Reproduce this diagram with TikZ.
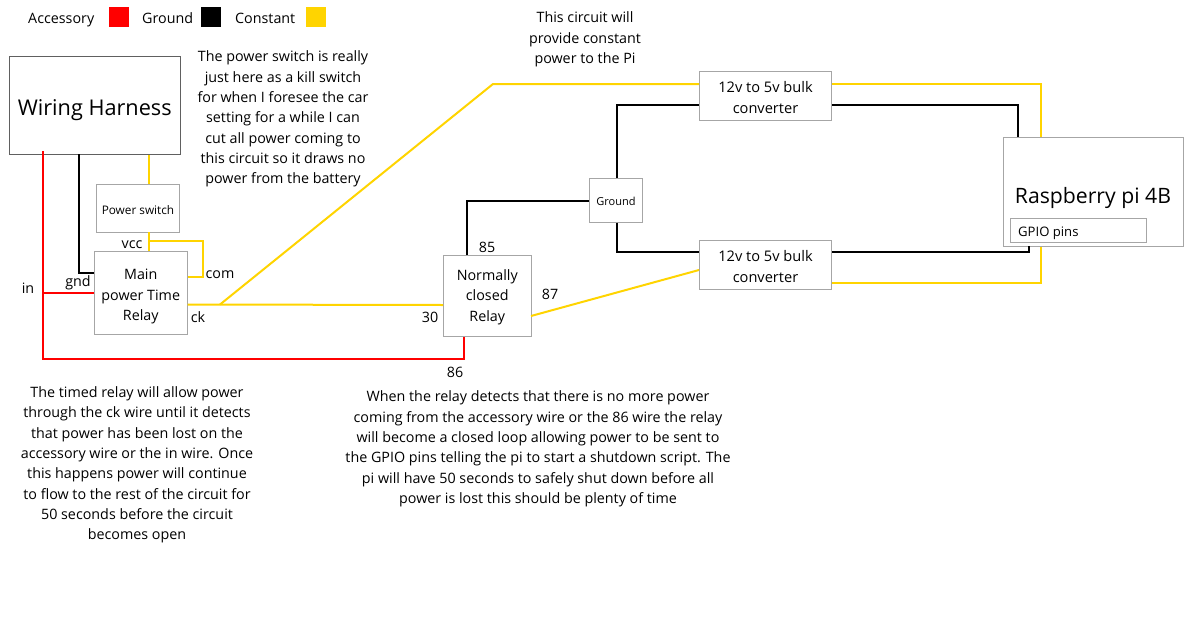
\documentclass[tikz,border=0pt]{standalone}
\usepackage{fontspec}
\setmainfont{Open Sans}
\definecolor{wyellow}{HTML}{FFD400}
\definecolor{wred}{HTML}{FF0000}
\definecolor{edge}{HTML}{A6A6A6}
\definecolor{edgedark}{HTML}{606060}
\tikzset{
 box/.style={draw=edge,line width=1pt,fill=white,align=center,inner sep=0pt,text=black},
 wire/.style={line width=2pt,line join=miter},
 ywire/.style={wire,draw=wyellow},
 rwire/.style={wire,draw=wred},
 bwire/.style={wire,draw=black},
 lab/.style={font=\fontsize{14.3}{20.3}\selectfont,align=center,inner sep=0pt,text=black},
 swatch/.style={minimum width=20pt,minimum height=20pt,inner sep=0pt}
}
\newcommand{\bx}[7][]{\node[box,minimum width=#5pt-#4pt,minimum height=#7pt-#6pt,#1] (#2) at ({(#4+#5)/2},{(#6+#7)/2}) {#3};}
\newcommand{\tp}[1]{\rule{0pt}{#1pt}}
\begin{document}
\begin{tikzpicture}[x=1pt,y=-1pt]
\useasboundingbox (0,0) rectangle (1197,640);
% boxes
\bx[draw=edgedark,font=\fontsize{21.7}{26}\selectfont]{wh}{\tp{26}Wiring Harness}{9.5}{180}{56.5}{154}
\bx[font=\fontsize{11.8}{14}\selectfont]{ps}{\tp{13}Power switch}{96.5}{179.5}{184.5}{232}
\bx[font=\fontsize{14.3}{20.5}\selectfont]{mr}{\tp{18.5}Main\\power Time\\Relay}{94.5}{187}{251.5}{334}
\bx[font=\fontsize{14.3}{20.3}\selectfont]{nc}{\tp{13}Normally\\closed\\Relay}{443.5}{531}{255.5}{336.5}
\bx[font=\fontsize{11}{13}\selectfont]{gr}{\tp{10}Ground}{589.5}{642.5}{178.5}{222}
\bx[font=\fontsize{14.6}{21}\selectfont]{ca}{\tp{15}12v to 5v bulk\\converter}{699.5}{831.5}{71.5}{120}
\bx[font=\fontsize{14.6}{21}\selectfont]{cb}{\tp{15}12v to 5v bulk\\converter}{699.5}{831.5}{240.5}{289}
\bx{pi}{}{1003.5}{1183.5}{137}{246}
\node[lab,font=\fontsize{21.2}{26}\selectfont] (pilab) at (1093,198) {Raspberry pi 4B};
\bx{gp}{}{1010.5}{1146.5}{218.5}{242}
\node[lab,anchor=west,font=\fontsize{13.1}{16}\selectfont] (gplab) at (1018,233) {GPIO pins};
% coordinates
\coordinate (r1) at (43,359);
\coordinate (r2) at (464,359);
\coordinate (rt) at (43,151);
\coordinate (ri) at (43,293);
\coordinate (b1) at (78.5,272.5);
\coordinate (yv) at (149,240.5);
\coordinate (yc) at (203,240.5);
\coordinate (yd) at (203,276.5);
\coordinate (yk) at (220,304.5);
\coordinate (yb) at (493,84);
\coordinate (g1) at (467,200.5);
\coordinate (g2) at (616.5,104.5);
\coordinate (g3) at (616.5,251.5);
\coordinate (p1) at (1017.5,104.5);
\coordinate (p2) at (1029,252);
\coordinate (y1) at (1040.5,84);
\coordinate (y2) at (1040.5,282.5);
% red
\draw[rwire] (rt) -- (r1) -- (r2) -- (r2 |- nc.south);
\draw[rwire] (ri) -- (ri -| mr.west);
% black
\draw[bwire] (78.5,154) -- (b1) -- (b1 -| mr.west);
\draw[bwire] (467,255) -- (g1) -- (g1 -| gr.west);
\draw[bwire] (g2 |- gr.north) -- (g2) -- (g2 -| ca.west);
\draw[bwire] (g3 |- gr.south) -- (g3) -- (g3 -| cb.west);
\draw[bwire] (p1 -| ca.east) -- (p1) -- (p1 |- pi.north);
\draw[bwire] (p2 -| cb.east) -- (p2) -- (1029,246);
% yellow
\draw[ywire] (149,154.5) -- (149,184);
\draw[ywire] (149,232) -- (149,251);
\draw[ywire] (yv) -- (yc) -- (yd) -- (yd -| mr.east);
\draw[ywire] (yk -| mr.east) -- (443,305);
\draw[ywire] (yk) -- (yb) -- (yb -| ca.west);
\draw[ywire] (531,316) -- (699,270);
\draw[ywire] (y1 -| ca.east) -- (y1) -- (y1 |- pi.north);
\draw[ywire] (y2 -| cb.east) -- (y2) -- (y2 |- pi.south);
% legend
\node[lab,anchor=base west] (l1) at (28,23) {Accessory};
\node[swatch,fill=wred] (s1) at (118.5,16.5) {};
\node[lab,anchor=base west] (l2) at (142,23) {Ground};
\node[swatch,fill=black] (s2) at (210.5,16.5) {};
\node[lab,anchor=base west] (l3) at (235,23) {Constant};
\node[swatch,fill=wyellow] (s3) at (316,16.5) {};
% pin labels
\node[lab] (t1) at (132,245) {vcc};
\node[lab] (t2) at (220,275) {com};
\node[lab] (t3) at (78,283) {gnd};
\node[lab] (t4) at (28,288) {in};
\node[lab] (t5) at (198,317) {ck};
\node[lab] (t6) at (430,317) {30};
\node[lab] (t7) at (487,247) {85};
\node[lab] (t8) at (550,294) {87};
\node[lab] (t9) at (455,372) {86};
% notes
\node[lab] (n1) at (283,119) {The power switch is really\\just here as a kill switch\\for when I foresee the car\\setting for a while I can\\cut all power coming to\\this circuit so it draws no\\power from the battery};
\node[lab] (n2) at (585,39.5) {This circuit will\\provide constant\\power to the Pi};
\node[lab] (n3) at (137,465) {The timed relay will allow power\\through the ck wire until it detects\\that power has been lost on the\\accessory wire or the in wire. Once\\this happens power will continue\\to flow to the rest of the circuit for\\50 seconds before the circuit\\becomes open};
\node[lab] (n4) at (538,449) {When the relay detects that there is no more power\\coming from the accessory wire or the 86 wire the relay\\will become a closed loop allowing power to be sent to\\the GPIO pins telling the pi to start a shutdown script. The\\pi will have 50 seconds to safely shut down before all\\power is lost this should be plenty of time};
\end{tikzpicture}
\end{document}
